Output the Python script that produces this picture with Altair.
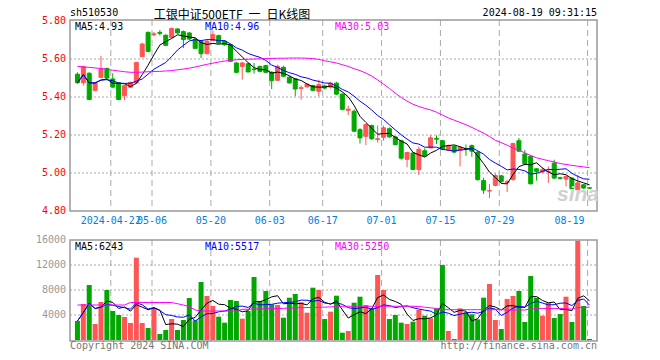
import altair as alt
import pandas as pd

# ---- data (index 0 = 2024-04-12 ... 87 = 2024-08-19)
opens = [5.52, 5.475, 5.525, 5.435, 5.503, 5.55, 5.495, 5.474, 5.408, 5.451,
         5.474, 5.612, 5.74, 5.728, 5.74, 5.725, 5.714, 5.758, 5.744, 5.737,
         5.705, 5.693, 5.628, 5.698, 5.723, 5.693, 5.675, 5.579, 5.561, 5.575,
         5.547, 5.561, 5.565, 5.53, 5.488, 5.556, 5.504, 5.496, 5.445, 5.453,
         5.46, 5.43, 5.458, 5.452, 5.473, 5.415, 5.33, 5.325, 5.228, 5.193,
         5.25, 5.176, 5.188, 5.233, 5.19, 5.17, 5.072, 5.105, 5.018, 5.117,
         5.132, 5.182, 5.17, 5.122, 5.14, 5.118, 5.128, 5.144, 5.11, 4.96,
         4.905, 4.935, 4.985, 4.95, 4.965, 5.17, 5.10, 5.088, 5.022, 5.005,
         5.007, 5.052, 4.975, 4.968, 4.973, 4.912, 4.938, 4.922]
highs = [5.53, 5.565, 5.53, 5.48, 5.617, 5.555, 5.525, 5.478, 5.465, 5.48,
         5.585, 5.685, 5.745, 5.742, 5.752, 5.73, 5.765, 5.762, 5.75, 5.742,
         5.71, 5.70, 5.70, 5.749, 5.728, 5.70, 5.68, 5.585, 5.585, 5.58,
         5.579, 5.565, 5.57, 5.535, 5.57, 5.565, 5.51, 5.50, 5.46, 5.47,
         5.465, 5.491, 5.465, 5.48, 5.48, 5.42, 5.355, 5.335, 5.236, 5.26,
         5.255, 5.25, 5.25, 5.24, 5.195, 5.175, 5.112, 5.11, 5.14, 5.13,
         5.20, 5.198, 5.175, 5.15, 5.145, 5.14, 5.15, 5.15, 5.115, 4.975,
         4.942, 4.997, 4.99, 4.965, 5.16, 5.184, 5.12, 5.095, 5.026, 5.03,
         5.035, 5.07, 4.98, 4.985, 4.978, 4.99, 4.942, 4.925]
lows = [5.47, 5.46, 5.383, 5.43, 5.50, 5.495, 5.448, 5.383, 5.383, 5.447,
        5.47, 5.61, 5.635, 5.72, 5.723, 5.668, 5.71, 5.733, 5.658, 5.70,
        5.652, 5.605, 5.625, 5.695, 5.68, 5.67, 5.585, 5.525, 5.491, 5.53,
        5.523, 5.53, 5.525, 5.442, 5.485, 5.505, 5.47, 5.404, 5.386, 5.45,
        5.43, 5.404, 5.44, 5.445, 5.41, 5.33, 5.305, 5.215, 5.155, 5.147,
        5.175, 5.16, 5.17, 5.185, 5.145, 5.07, 5.03, 5.015, 4.99, 5.085,
        5.13, 5.152, 5.12, 5.115, 5.105, 5.035, 5.09, 5.085, 4.96, 4.89,
        4.868, 4.93, 4.948, 4.90, 4.96, 5.11, 5.04, 4.94, 4.96, 5.0,
        4.948, 4.97, 4.965, 4.929, 4.915, 4.903, 4.915, 4.918]
closes = [5.475, 5.56, 5.387, 5.474, 5.55, 5.50, 5.452, 5.387, 5.46, 5.477,
          5.582, 5.679, 5.64, 5.732, 5.735, 5.672, 5.761, 5.737, 5.702, 5.705,
          5.656, 5.628, 5.693, 5.728, 5.684, 5.675, 5.588, 5.53, 5.579, 5.532,
          5.544, 5.535, 5.53, 5.486, 5.561, 5.509, 5.474, 5.442, 5.449, 5.468,
          5.435, 5.465, 5.447, 5.473, 5.415, 5.335, 5.336, 5.22, 5.185, 5.255,
          5.18, 5.18, 5.238, 5.19, 5.15, 5.078, 5.108, 5.018, 5.125, 5.09,
          5.185, 5.178, 5.125, 5.142, 5.11, 5.135, 5.125, 5.115, 4.965, 4.91,
          4.908, 4.987, 4.955, 4.954, 5.155, 5.115, 5.048, 4.943, 5.009, 5.017,
          5.01, 4.973, 4.972, 4.982, 4.917, 4.948, 4.921, 4.92]
volumes = [3040, 5760, 8800, 2560, 6080, 8000, 4640, 4000, 3680, 2720,
           13170, 2720, 1920, 5120, 960, 1600, 3360, 1600, 3200, 6720,
           3150, 9280, 7040, 5440, 3730, 2770, 6400, 6240, 3410, 4640,
           10080, 6240, 7840, 5700, 5600, 3570, 6770, 7360, 6030, 4370,
           8370, 8000, 3360, 4530, 7090, 1170, 1440, 5970, 6930, 5600,
           5070, 10400, 8000, 3360, 4000, 2770, 2560, 2930, 4800, 3890,
           3470, 5070, 12000, 1440, 160, 5070, 4430, 4110, 3300, 6770,
           8960, 3200, 1760, 6560, 7040, 7840, 2880, 10240, 6770, 3890,
           5970, 3520, 4160, 6930, 2880, 15900, 5440, 160]
ma30 = [5.561, 5.558, 5.556, 5.553, 5.55, 5.546, 5.541, 5.537, 5.533, 5.53,
        5.53, 5.531, 5.533, 5.534, 5.535, 5.537, 5.539, 5.543, 5.547, 5.552,
        5.558, 5.565, 5.572, 5.578, 5.584, 5.589, 5.593, 5.596, 5.598, 5.599,
        5.60, 5.601, 5.602, 5.603, 5.604, 5.604, 5.605, 5.605, 5.605, 5.604,
        5.602, 5.598, 5.591, 5.585, 5.579, 5.57, 5.561, 5.549, 5.539, 5.526,
        5.51, 5.49, 5.468, 5.445, 5.42, 5.398, 5.378, 5.362, 5.35, 5.34,
        5.332, 5.32, 5.305, 5.29, 5.278, 5.266, 5.254, 5.24, 5.225, 5.21,
        5.192, 5.172, 5.16, 5.146, 5.132, 5.12, 5.106, 5.092, 5.08, 5.072,
        5.065, 5.058, 5.05, 5.045, 5.04, 5.036, 5.032, 5.028]
vol_ma30 = [5600, 5600, 5600, 5600, 5600, 5600, 5600, 5600, 5600, 6000,
            6000, 6000, 6000, 6000, 6000, 6000, 6000, 5800, 5600, 5330,
            4800, 4640, 4640, 4640, 4640, 4640, 4640, 4640, 4900, 4930,
            4960, 4980, 5000, 5020, 5040, 5070, 5100, 5130, 5170, 5190,
            5210, 5230, 5250, 5300, 5350, 5400, 5400, 5400, 5400, 5400,
            5400, 5400, 5400, 5400, 5400, 5400, 5400, 5400, 5350, 5250,
            5150, 5050, 4850, 4850, 4850, 4850, 4850, 4850, 4850, 4850,
            4850, 4850, 4850, 4800, 4800, 4800, 4800, 4950, 5050, 5050,
            5050, 5050, 5050, 5000, 4950, 5200, 5230, 5250]

date_idx = [6, 13, 23, 33, 42, 52, 62, 72, 87]
date_labels = ["2024-04-22", "05-06", "05-20", "06-03", "06-17",
               "07-01", "07-15", "07-29", "08-19"]
price_ticks = [5.80, 5.60, 5.40, 5.20, 5.00, 4.80]
price_tick_labels = ["5.80", "5.60", "5.40", "5.20", "5.00", "4.80"]
price_grid = [5.60, 5.40, 5.20, 5.00]
vol_ticks = [16000, 12000, 8000, 4000]
vol_tick_labels = ["16000", "12000", "8000", "4000"]

ma_price_texts = ["MA5:4.93", "MA10:4.96", "MA30:5.03"]
ma_vol_texts = ["MA5:6243", "MA10:5517", "MA30:5250"]
ma_colors = ["#000000", "#0000ff", "#ff00ff"]

RED = "#ff5555"
GREEN = "#00a800"
MONO = "DejaVu Sans Mono"

W, H = 527, 321
P_TOP, P_BOT = 1, 191      # price panel pixel range
V_TOP, V_BOT = 220, 320    # volume panel pixel range

n = len(closes)
df = pd.DataFrame({"i": list(range(n)), "open": opens, "high": highs,
                   "low": lows, "close": closes, "vol": volumes,
                   "ma30": ma30, "vma30": vol_ma30})
df["dir"] = ["up" if c >= o else "down" for o, c in zip(opens, closes)]

xs = alt.Scale(domain=[-2.5 / 6, -2.5 / 6 + W / 6], nice=False, zero=False)
ps = alt.Scale(domain=[4.8, 5.8], range=[P_BOT, P_TOP], nice=False, zero=False)
vs = alt.Scale(domain=[0, 16000], range=[V_BOT, V_TOP], nice=False)
col = alt.Color("dir:N", scale=alt.Scale(domain=["up", "down"], range=[RED, GREEN]), legend=None)
stk = alt.Stroke("dir:N", scale=alt.Scale(domain=["up", "down"], range=[RED, GREEN]), legend=None)
X = alt.X("i:Q", scale=xs, axis=None)

base = alt.Chart(df)

# grids
pg = alt.Chart(pd.DataFrame({"p": price_grid})).mark_rule(
    color="#aaaaaa", strokeDash=[2, 2], strokeWidth=1).encode(
    y=alt.Y("p:Q", scale=ps, axis=None), x=alt.value(0), x2=alt.value(W))
vg = alt.Chart(pd.DataFrame({"v": vol_ticks[1:]})).mark_rule(
    color="#aaaaaa", strokeDash=[2, 2], strokeWidth=1).encode(
    y=alt.Y("v:Q", scale=vs, axis=None), x=alt.value(0), x2=alt.value(W))
dates_df = pd.DataFrame({"i": date_idx, "label": date_labels})
xgrid_top = alt.Chart(dates_df).transform_calculate(g="datum.i - 0.3333").mark_rule(
    color="#aaaaaa", strokeDash=[6, 4], strokeWidth=1).encode(
    x=alt.X("g:Q", scale=xs, axis=None), y=alt.value(0), y2=alt.value(P_BOT))
xgrid_bot = alt.Chart(dates_df).transform_calculate(g="datum.i - 0.3333").mark_rule(
    color="#aaaaaa", strokeDash=[6, 4], strokeWidth=1).encode(
    x=alt.X("g:Q", scale=xs, axis=None), y=alt.value(V_TOP), y2=alt.value(V_BOT + 1))

# candles
wicks = base.mark_rule(strokeWidth=1).encode(
    x=X, y=alt.Y("low:Q", scale=ps, axis=None), y2="high:Q", color=col)
bodies = base.mark_bar(size=4, strokeWidth=1).encode(
    x=X, y=alt.Y("open:Q", scale=ps, axis=None), y2="close:Q", color=col, stroke=stk)

win = dict(sort=[alt.SortField("i")])
ma5 = base.transform_window(m="mean(close)", frame=[-4, 0], **win).mark_line(
    color="#000000", strokeWidth=1).encode(x=X, y=alt.Y("m:Q", scale=ps, axis=None))
ma10 = base.transform_window(m="mean(close)", frame=[-9, 0], **win).mark_line(
    color="#0000ff", strokeWidth=1).encode(x=X, y=alt.Y("m:Q", scale=ps, axis=None))
ma30l = base.mark_line(color="#ff00ff", strokeWidth=1).encode(
    x=X, y=alt.Y("ma30:Q", scale=ps, axis=None))

# volume
vbars = base.mark_bar(size=5).encode(
    x=X, y=alt.Y("vol:Q", scale=vs, axis=None), color=col)
vma5 = base.transform_window(m="mean(vol)", frame=[-4, 0], **win).mark_line(
    color="#000000", strokeWidth=1).encode(x=X, y=alt.Y("m:Q", scale=vs, axis=None))
vma10 = base.transform_window(m="mean(vol)", frame=[-9, 0], **win).mark_line(
    color="#0000ff", strokeWidth=1).encode(x=X, y=alt.Y("m:Q", scale=vs, axis=None))
vma30 = base.mark_line(color="#ff00ff", strokeWidth=1).encode(
    x=X, y=alt.Y("vma30:Q", scale=vs, axis=None))

# frames
one = pd.DataFrame({"a": [0]})
frame_top = alt.Chart(one).mark_rect(fillOpacity=0, stroke="#999999", strokeWidth=1.5).encode(
    x=alt.value(0), x2=alt.value(W), y=alt.value(0), y2=alt.value(P_BOT))
frame_bot = alt.Chart(one).mark_rect(fillOpacity=0, stroke="#999999", strokeWidth=1.5).encode(
    x=alt.value(0), x2=alt.value(W), y=alt.value(V_TOP), y2=alt.value(V_BOT + 1))

# texts
ptl = alt.Chart(pd.DataFrame({"p": price_ticks, "t": price_tick_labels})).mark_text(
    align="right", baseline="middle", font=MONO, fontSize=10, color="#ff0000").encode(
    y=alt.Y("p:Q", scale=ps, axis=None), x=alt.value(-4), text="t:N")
vtl = alt.Chart(pd.DataFrame({"v": vol_ticks, "t": vol_tick_labels})).mark_text(
    align="right", baseline="middle", font=MONO, fontSize=10, color="#999999").encode(
    y=alt.Y("v:Q", scale=vs, axis=None), x=alt.value(-4), text="t:N")
dl_main = alt.Chart(dates_df.iloc[:-1]).transform_calculate(g="datum.i - 0.3333").mark_text(
    align="center", baseline="middle", font=MONO, fontSize=10, color="#0080e0").encode(
    x=alt.X("g:Q", scale=xs, axis=None), y=alt.value(201), text="label:N")
dl_last = alt.Chart(dates_df.iloc[-1:]).transform_calculate(g="datum.i - 0.3333").mark_text(
    align="right", baseline="middle", font=MONO, fontSize=10, color="#0080e0", dx=-3).encode(
    x=alt.X("g:Q", scale=xs, axis=None), y=alt.value(201), text="label:N")


def label(txt, x, y, color="#000000", align="left", size=10, font=MONO, **kw):
    return alt.Chart(pd.DataFrame({"t": [txt]})).mark_text(
        align=align, baseline="middle", font=font, fontSize=size, color=color, **kw).encode(
        x=alt.value(x), y=alt.value(y), text="t:N")


texts = [
    label("sh510530", 0, -7),
    label("工银中证500ETF\u2002一\u2002日K线图", 162, -5, align="center", size=12,
          font="Noto Sans CJK SC"),
    label("2024-08-19 09:31:15", W, -7, align="right"),
    label("Copyright 2024 SINA.COM", 0, 326, color="#777777"),
    label("http://finance.sina.com.cn", W, 326, color="#777777", align="right"),
    label("sina", 508, 175, color="#d0d0d0", align="center", size=21,
          font="Liberation Sans", fontStyle="italic", fontWeight="bold"),
]
for t, xpos, c in zip(ma_price_texts, [5, 135, 265], ma_colors):
    texts.append(label(t, xpos, 7, color=c))
for t, xpos, c in zip(ma_vol_texts, [5, 135, 265], ma_colors):
    texts.append(label(t, xpos, 227, color=c))

chart = alt.layer(
    pg, vg, xgrid_top, xgrid_bot,
    wicks, bodies, ma5, ma10, ma30l,
    vbars, vma5, vma10, vma30,
    frame_top, frame_bot,
    ptl, vtl, dl_main, dl_last, *texts,
).resolve_scale(y="independent").properties(
    width=W, height=H,
    autosize=alt.AutoSizeParams(type="none"),
    padding={"left": 62, "top": 12, "right": 50, "bottom": 20},
).configure_view(stroke=None)

chart.save("out.html", embed_options={"renderer": "svg", "actions": False})
